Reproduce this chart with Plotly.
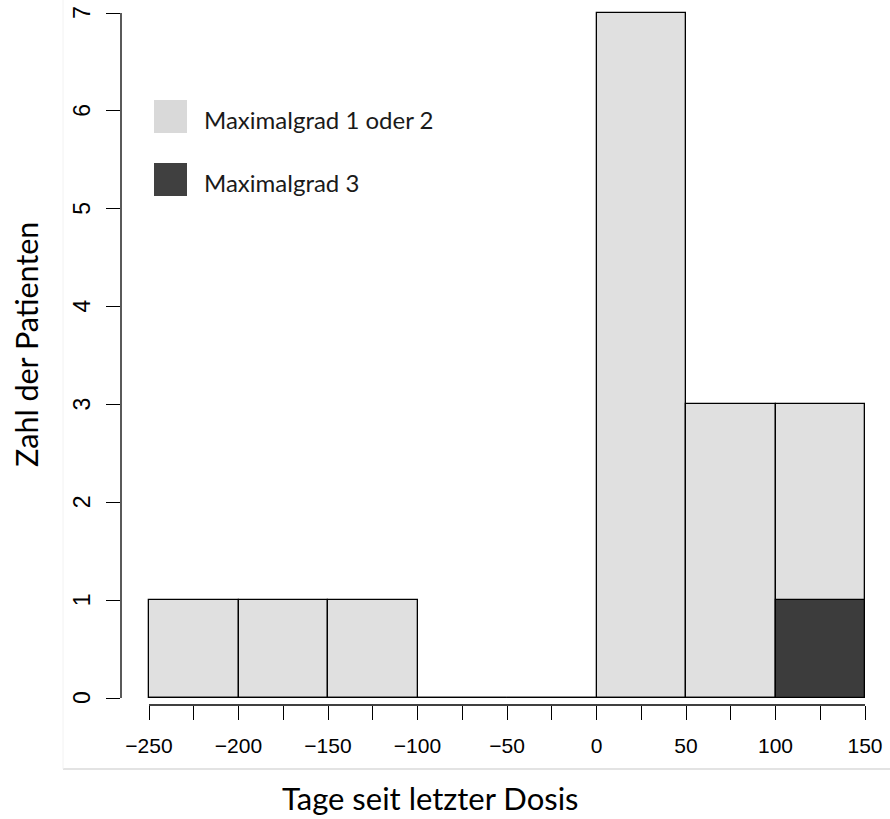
import plotly.graph_objects as go

# ---- data ----
bin_edges = [-250, -200, -150, -100, -50, 0, 50, 100, 150]
grade12_counts = [1, 1, 1, 0, 0, 7, 3, 3]   # light bars (all patients)
grade3_counts = [0, 0, 0, 0, 0, 0, 0, 1]    # dark bars
x_tickvals = [-250, -225, -200, -175, -150, -125, -100, -75, -50, -25, 0, 25, 50, 75, 100, 125, 150]
x_ticktext = ["−250", "", "−200", "", "−150", "", "−100", "", "−50", "", "0", "", "50", "", "100", "", "150"]
y_tickvals = [0, 1, 2, 3, 4, 5, 6, 7]
y_ticktext = ["0", "1", "2", "3", "4", "5", "6", "7"]
legend_labels = ["Maximalgrad 1 oder 2", "Maximalgrad 3"]
x_title = "Tage seit letzter Dosis"
y_title = "Zahl der Patienten"

LIGHT = "#e0e0e0"
DARK = "#3c3c3c"
W, H = 890, 819

# ---- layout geometry (pixels) ----
L, R, T, B = 121, 15, 5, 114
px_x0, px_x1 = 149, 865       # pixel of -250 and 150
px_y0, px_y7 = 698, 13        # pixel of 0 and 7
sx = (px_x1 - px_x0) / (bin_edges[-1] - bin_edges[0])
sy = (px_y0 - px_y7) / 7.0
xr = [bin_edges[0] - (px_x0 - L) / sx, bin_edges[-1] + ((W - R) - px_x1) / sx]
yr = [-((H - B) - px_y0) / sy, 7 + (px_y7 - T) / sy]

def dx(px):
    return bin_edges[0] + (px - px_x0) / sx

def dy(py):
    return (px_y0 - py) / sy

def paper_x(px):
    return (px - L) / (W - L - R)

def paper_y(py):
    return ((H - B) - py) / (H - T - B)

centers = [(a + b) / 2 for a, b in zip(bin_edges[:-1], bin_edges[1:])]
widths = [b - a for a, b in zip(bin_edges[:-1], bin_edges[1:])]

fig = go.Figure()
fig.add_trace(go.Bar(x=centers, y=grade12_counts, width=widths,
                     marker=dict(color=LIGHT, line=dict(color="black", width=1.3)),
                     showlegend=False, hoverinfo="skip"))
fig.add_trace(go.Bar(x=centers, y=grade3_counts, width=widths,
                     marker=dict(color=DARK, line=dict(color="black", width=1.3)),
                     showlegend=False, hoverinfo="skip"))

shapes = []
# x axis line (only over tick span)
shapes.append(dict(type="line", xref="x", yref="paper", x0=x_tickvals[0], x1=x_tickvals[-1],
                   y0=0, y1=0, line=dict(color="black", width=1.3)))
# y axis line
shapes.append(dict(type="line", xref="paper", yref="y", x0=0, x1=0,
                   y0=y_tickvals[0], y1=y_tickvals[-1], line=dict(color="black", width=1.3)))
# frame lines of the pasted image
shapes.append(dict(type="line", xref="paper", yref="paper", x0=paper_x(63), x1=paper_x(890),
                   y0=paper_y(769), y1=paper_y(769), line=dict(color="#c8c8c8", width=1.2)))
shapes.append(dict(type="line", xref="paper", yref="paper", x0=paper_x(63), x1=paper_x(63),
                   y0=paper_y(0), y1=paper_y(769), line=dict(color="#f2f2f2", width=1)))
# legend squares
leg_colors = ["#d9d9d9", "#404040"]
leg_y = [(100, 133), (163, 196)]
annotations = []
for col, (ya, yb), lab in zip(leg_colors, leg_y, legend_labels):
    shapes.append(dict(type="rect", xref="x", yref="y", x0=dx(154), x1=dx(187),
                       y0=dy(yb), y1=dy(ya), fillcolor=col, line=dict(width=0)))
    annotations.append(dict(xref="x", yref="y", x=dx(202), y=dy((ya + yb) / 2 + 3),
                            text=lab, showarrow=False, xanchor="left", yanchor="middle",
                            font=dict(family="Lato", size=24, color="#1a1a1a")))
annotations.append(dict(xref="paper", yref="paper", x=paper_x(430), y=paper_y(798),
                        text=x_title, showarrow=False, xanchor="center", yanchor="middle",
                        font=dict(family="Lato", size=31, color="black")))
annotations.append(dict(xref="paper", yref="paper", x=paper_x(26), y=paper_y(345),
                        text=y_title, showarrow=False, xanchor="center", yanchor="middle",
                        textangle=-90, font=dict(family="Lato", size=30.5, color="black")))
# y tick labels (rotated, R style)
for v, t in zip(y_tickvals, y_ticktext):
    annotations.append(dict(xref="paper", yref="y", x=paper_x(82), y=v, text=t,
                            showarrow=False, xanchor="center", yanchor="middle",
                            textangle=-90,
                            font=dict(family="Liberation Sans", size=23, color="black")))

fig.update_layout(
    width=W, height=H,
    margin=dict(l=L, r=R, t=T, b=B, pad=0),
    paper_bgcolor="white", plot_bgcolor="white",
    barmode="overlay", bargap=0,
    shapes=shapes, annotations=annotations,
    xaxis=dict(range=xr, tickmode="array", tickvals=x_tickvals, ticktext=x_ticktext,
               ticks="outside", ticklen=14, tickwidth=1.3, tickcolor="black",
               ticklabelstandoff=8,
               showgrid=False, zeroline=False, showline=False,
               tickfont=dict(family="Liberation Sans", size=21, color="black")),
    yaxis=dict(range=yr, tickmode="array", tickvals=y_tickvals,
               ticktext=[""] * len(y_tickvals),
               ticks="outside", ticklen=14, tickwidth=1.3, tickcolor="black",
               showgrid=False, zeroline=False, showline=False),
)

fig.write_html("out.html")
